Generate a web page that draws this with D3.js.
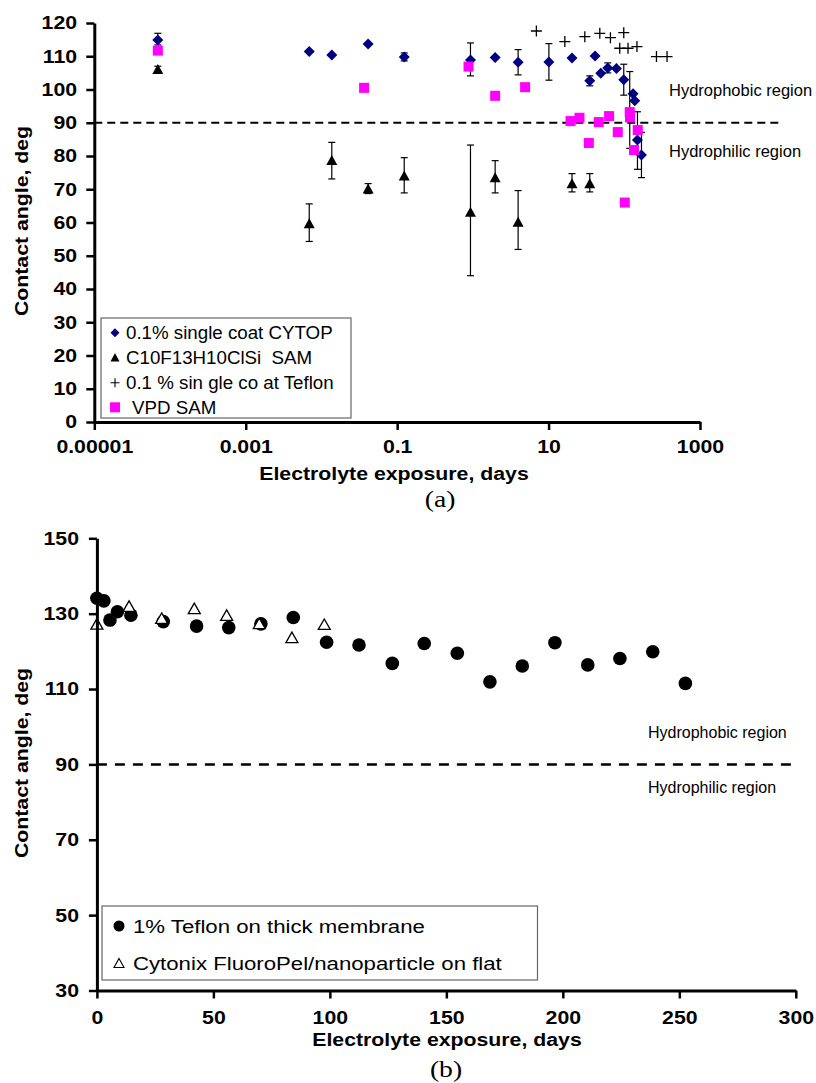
<!DOCTYPE html>
<html>
<head>
<meta charset="utf-8">
<script src="https://cdn.jsdelivr.net/npm/d3@7"></script>
<style>
  body { margin: 0; background: #fff; }
</style>
</head>
<body>
<div id="chart"></div>
<script>
// ---- panel (a): contact angle vs electrolyte exposure (log days)
var cytopDays  = [6.9e-5, 0.0069, 0.0137, 0.0414, 0.124, 0.93, 1.97, 3.96, 10.1, 20.4, 41.1, 35.0, 48.9, 60.5, 78.7, 98.4, 130.6, 137.4, 149.3, 168.6];
var cytopAngle = [114.9, 111.4, 110.4, 113.7, 109.8, 108.9, 109.6, 108.2, 108.3, 109.5, 110.1, 102.6, 104.9, 106.5, 106.3, 102.9, 98.7, 96.6, 84.8, 80.3];
var cytopErr   = [[113.4, 116.9], null, null, null, [108.6, 111.0], [104.1, 114.0], null, [104.4, 112.0], [102.8, 113.8], null, null,
                  [101.1, 104.1], null, [105.0, 108.0], null, [98.3, 107.6], null, null, [76.0, 93.3], [73.5, 87.1]];

var samDays  = [6.9e-5, 0.0069, 0.0137, 0.0414, 0.124, 0.93, 1.97, 3.96, 20.4, 35.0];
var samAngle = [106.2, 59.8, 78.8, 70.2, 74.1, 63.2, 73.6, 60.2, 71.8, 71.8];
var samErr   = [[105.4, 107.0], [54.3, 65.6], [73.1, 84.1], [68.7, 71.7], [68.9, 79.5], [44.0, 83.3], [68.9, 78.6], [51.9, 69.6], [69.2, 74.7], [69.2, 74.7]];

var teflonDays  = [6.9, 16.4, 30.1, 47.5, 65.6, 98.4, 87.1, 112, 147, 266, 367];
var teflonAngle = [117.6, 114.4, 115.9, 116.9, 115.6, 117.1, 112.4, 112.4, 112.9, 109.9, 109.9];

var vpdDays  = [6.9e-5, 0.0366, 0.877, 1.97, 4.9, 19.5, 25.6, 34.0, 46.0, 63.0, 82.0, 101.5, 118, 119, 134.5, 150.6];
var vpdAngle = [111.7, 100.5, 106.9, 98.1, 100.7, 90.5, 91.5, 83.9, 90.2, 92.0, 87.2, 66.0, 93.2, 91.6, 81.8, 87.8];
var vpdErr   = [null, null, null, null, null, null, null, null, null, null, null, null, [82.3, 105.4], null, null, null];

var xTicksA  = [1e-5, 1e-3, 1e-1, 10, 1000];
var xLabelsA = ["0.00001", "0.001", "0.1", "10", "1000"];
var yTicksA  = d3.range(0, 121, 10);
var legendA  = ["0.1% single coat CYTOP", "C10F13H10ClSi  SAM", "0.1 % sin gle co at Teflon", "VPD SAM"];

// ---- panel (b): contact angle vs electrolyte exposure (linear days)
var thickDays  = [0, 3, 5.6, 8.8, 14.6, 28.5, 42.8, 56.6, 70.4, 84.3, 98.6, 112.5, 126.8, 140.5, 154.7, 168.7, 182.6, 196.6, 210.7, 224.5, 238.6, 252.6];
var thickAngle = [134.1, 133.4, 128.3, 130.5, 129.6, 127.9, 126.7, 126.3, 127.3, 129.0, 122.4, 121.7, 116.8, 122.1, 119.5, 111.9, 116.1, 122.3, 116.4, 118.1, 119.9, 111.5];

var cytonixDays  = [0, 13.8, 27.8, 41.8, 55.7, 69.7, 83.7, 97.6];
var cytonixAngle = [127.3, 132.0, 128.8, 131.4, 129.6, 127.4, 123.7, 127.2];

var xTicksB = d3.range(0, 301, 50);
var yTicksB = [30, 50, 70, 90, 110, 130, 150];
var legendB = ["1% Teflon on thick membrane", "Cytonix FluoroPel/nanoparticle on flat"];

var SANS = "Liberation Sans, Arial, sans-serif";
var SERIF = "Liberation Serif, Times New Roman, serif";

var width = 816, height = 1083;
var svg = d3.select("#chart").append("svg")
            .attr("width", width)
            .attr("height", height);

// text that is a bit wider than the installed Arial clone
function label(parent, x, y, str, size, weight, sx, anchor, rot, family) {
    return parent.append("text")
        .attr("transform", `translate(${x},${y})` + (rot ? ` rotate(${rot})` : "") + ` scale(${sx},1)`)
        .attr("text-anchor", anchor || "start")
        .style("font-family", family || SANS)
        .style("white-space", "pre")
        .attr("font-size", size)
        .attr("font-weight", weight || "normal")
        .attr("fill", "#000")
        .text(str);
}

function styleAxis(g, sx) {
    g.select(".domain").attr("stroke", "#000").attr("stroke-width", 3);
    g.selectAll(".tick line").attr("stroke", "#000").attr("stroke-width", 2.5);
    g.selectAll(".tick text")
     .style("font-family", SANS)
     .attr("font-size", 18.5)
     .attr("font-weight", "bold")
     .attr("fill", "#000")
     .attr("transform", `scale(${sx},1)`);
}

function diamond(s) { return `M0,${-s} L${s},0 L0,${s} L${-s},0 Z`; }
function triangle(w, h) { return `M0,${-h / 2} L${w / 2},${h / 2} L${-w / 2},${h / 2} Z`; }
function plus(s) { return `M${-s},0 H${s} M0,${-s} V${s}`; }

function errorBars(g, xs, errs, x, y) {
    errs.forEach(function(e, i) {
        if (!e) return;
        var px = x(xs[i]);
        g.append("line").attr("x1", px).attr("x2", px).attr("y1", y(e[0])).attr("y2", y(e[1]))
         .attr("stroke", "#000").attr("stroke-width", 1.2);
        [e[0], e[1]].forEach(function(v) {
            g.append("line").attr("x1", px - 3.5).attr("x2", px + 3.5).attr("y1", y(v)).attr("y2", y(v))
             .attr("stroke", "#000").attr("stroke-width", 1.2);
        });
    });
}

// ================= panel (a) =================
var xA = d3.scaleLog().domain([1e-5, 1000]).range([94.3, 700]);
var yA = d3.scaleLinear().domain([0, 120]).range([422, 23]);
var gA = svg.append("g");

// 90 deg boundary
gA.append("line")
  .attr("x1", xA(1e-5)).attr("x2", 780)
  .attr("y1", yA(90)).attr("y2", yA(90))
  .attr("stroke", "#000").attr("stroke-width", 2)
  .attr("stroke-dasharray", "8,5");
label(gA, 669, 96, "Hydrophobic region", 16.5, "normal", 1, "start");
label(gA, 669, 157, "Hydrophilic region", 16.5, "normal", 1, "start");

// CYTOP diamonds
errorBars(gA, cytopDays, cytopErr, xA, yA);
gA.selectAll(".cytop").data(cytopDays).enter().append("path")
  .attr("d", diamond(5.5))
  .attr("transform", (d, i) => `translate(${xA(d)},${yA(cytopAngle[i])})`)
  .attr("fill", "#000080");

// SAM triangles
errorBars(gA, samDays, samErr, xA, yA);
gA.selectAll(".sam").data(samDays).enter().append("path")
  .attr("d", triangle(11, 10))
  .attr("transform", (d, i) => `translate(${xA(d)},${yA(samAngle[i])})`)
  .attr("fill", "#000");

// Teflon crosses
gA.selectAll(".teflon").data(teflonDays).enter().append("path")
  .attr("d", plus(5.5))
  .attr("transform", (d, i) => `translate(${xA(d)},${yA(teflonAngle[i])})`)
  .attr("stroke", "#000").attr("stroke-width", 1.3).attr("fill", "none");

// VPD squares
errorBars(gA, vpdDays, vpdErr, xA, yA);
gA.selectAll(".vpd").data(vpdDays).enter().append("rect")
  .attr("x", d => xA(d) - 5).attr("y", (d, i) => yA(vpdAngle[i]) - 5)
  .attr("width", 10).attr("height", 10)
  .attr("fill", "#ff00ff");

// axes
var axA_x = gA.append("g").attr("transform", `translate(0,${yA(0)})`)
  .call(d3.axisBottom(xA).tickValues(xTicksA).tickFormat((d, i) => xLabelsA[i])
        .tickSize(8).tickSizeOuter(0).tickPadding(9.5));
styleAxis(axA_x, 1.15);
var axA_y = gA.append("g").attr("transform", `translate(${xA(1e-5)},0)`)
  .call(d3.axisLeft(yA).tickValues(yTicksA).tickSize(8).tickSizeOuter(0).tickPadding(7));
styleAxis(axA_y, 1.15);

label(gA, 394, 480, "Electrolyte exposure, days", 18.5, "bold", 1.15, "middle");
label(gA, 28, 221, "Contact angle, deg", 18.5, "bold", 1.15, "middle", -90);

// legend (a)
gA.append("rect").attr("x", 101).attr("y", 318).attr("width", 250).attr("height", 100)
  .attr("fill", "#fff").attr("stroke", "#666").attr("stroke-width", 1.2);
var legRowsA = [332.7, 357.3, 382.7, 407.3];
gA.append("path").attr("d", diamond(4.5)).attr("transform", `translate(115,${legRowsA[0]})`).attr("fill", "#000080");
gA.append("path").attr("d", triangle(9, 8.5)).attr("transform", `translate(115,${legRowsA[1]})`).attr("fill", "#000");
gA.append("path").attr("d", plus(4.5)).attr("transform", `translate(115,${legRowsA[2]})`)
  .attr("stroke", "#000").attr("stroke-width", 1.1).attr("fill", "none");
gA.append("rect").attr("x", 110).attr("y", legRowsA[3] - 5).attr("width", 10).attr("height", 10).attr("fill", "#ff00ff");
legendA.forEach(function(t, i) {
    label(gA, i === 3 ? 132 : 126, legRowsA[i] + 6.3, t, 17.5, "normal", 1.07, "start");
});

// caption
label(svg, 440, 507, "(a)", 24, "normal", 1.15, "middle", null, SERIF);

// ================= panel (b) =================
var xB = d3.scaleLinear().domain([0, 300]).range([96.9, 795.8]);
var yB = d3.scaleLinear().domain([30, 150]).range([990.5, 538.3]);
var gB = svg.append("g");

gB.append("line")
  .attr("x1", xB(0)).attr("x2", 792)
  .attr("y1", yB(90)).attr("y2", yB(90))
  .attr("stroke", "#000").attr("stroke-width", 2.5)
  .attr("stroke-dasharray", "10,8");
label(gB, 648, 738, "Hydrophobic region", 16, "normal", 1, "start");
label(gB, 648, 793, "Hydrophilic region", 16, "normal", 1, "start");

gB.selectAll(".thick").data(thickDays).enter().append("circle")
  .attr("cx", d => xB(d)).attr("cy", (d, i) => yB(thickAngle[i]))
  .attr("r", 6.8).attr("fill", "#000");

gB.selectAll(".cytonix").data(cytonixDays).enter().append("path")
  .attr("d", triangle(12, 10.5))
  .attr("transform", (d, i) => `translate(${xB(d)},${yB(cytonixAngle[i])})`)
  .attr("fill", "#fff").attr("stroke", "#000").attr("stroke-width", 1.3);

var axB_x = gB.append("g").attr("transform", `translate(0,${yB(30)})`)
  .call(d3.axisBottom(xB).tickValues(xTicksB).tickSize(8).tickSizeOuter(0).tickPadding(12));
styleAxis(axB_x, 1.15);
var axB_y = gB.append("g").attr("transform", `translate(${xB(0)},0)`)
  .call(d3.axisLeft(yB).tickValues(yTicksB).tickSize(8).tickSizeOuter(0).tickPadding(7.6));
styleAxis(axB_y, 1.15);

label(gB, 447, 1046, "Electrolyte exposure, days", 18.5, "bold", 1.15, "middle");
label(gB, 28, 763, "Contact angle, deg", 18.5, "bold", 1.15, "middle", -90);

// legend (b)
gB.append("rect").attr("x", 102).attr("y", 906).attr("width", 435.5).attr("height", 74)
  .attr("fill", "#fff").attr("stroke", "#666").attr("stroke-width", 1.2);
gB.append("circle").attr("cx", 119).attr("cy", 926).attr("r", 5.5).attr("fill", "#000");
gB.append("path").attr("d", triangle(10, 9)).attr("transform", "translate(119,963)")
  .attr("fill", "#fff").attr("stroke", "#000").attr("stroke-width", 1.1);
legendB.forEach(function(t, i) {
    label(gB, 133, [926, 963][i] + 6.6, t, 18.5, "normal", 1.2, "start");
});

label(svg, 446, 1077, "(b)", 24, "normal", 1.15, "middle", null, SERIF);
</script>
</body>
</html>
